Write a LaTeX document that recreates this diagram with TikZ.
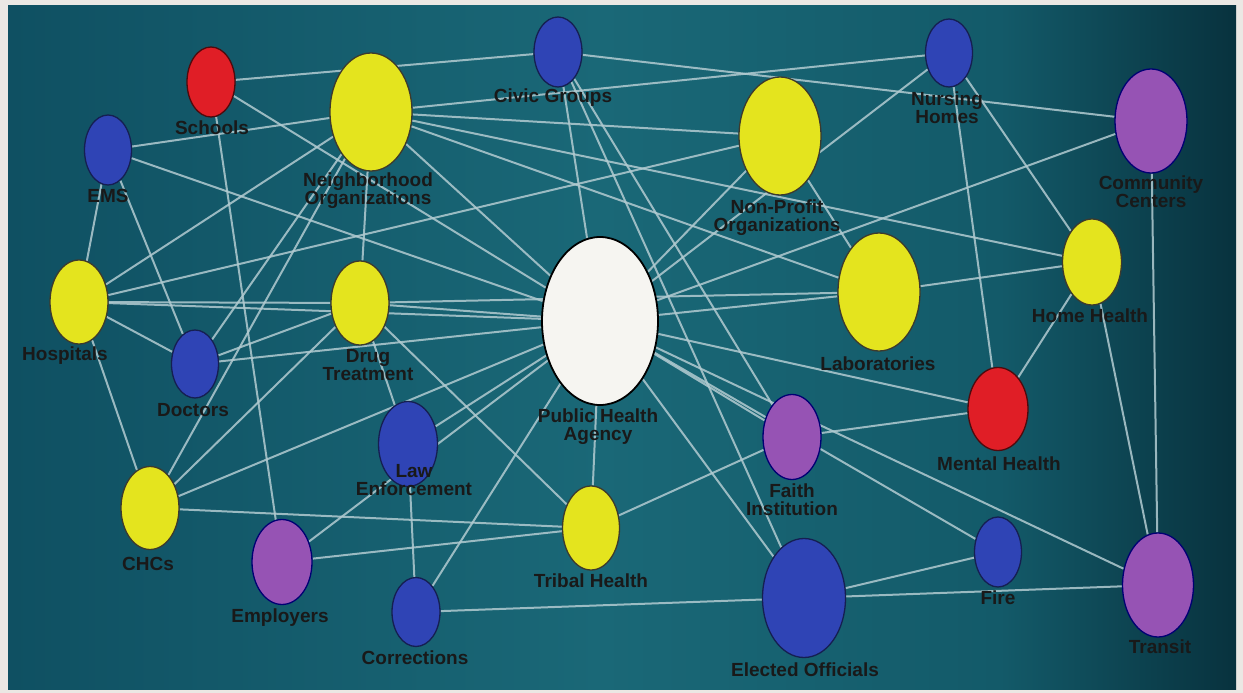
\documentclass[tikz,border=0pt]{standalone}
\usepackage{fontspec}
\setmainfont{Liberation Sans}
\usetikzlibrary{shapes.geometric,backgrounds}

\definecolor{frame}{HTML}{EBE8E4}
\definecolor{tealA}{HTML}{0F5062}
\definecolor{tealB}{HTML}{1A6877}
\definecolor{tealD}{HTML}{135A69}
\definecolor{tealC}{HTML}{08323E}
\definecolor{edge}{HTML}{B2CBD1}
\definecolor{yel}{HTML}{E4E41E}
\definecolor{blu}{HTML}{2F44B5}
\definecolor{rd}{HTML}{E01E26}
\definecolor{pur}{HTML}{9653B4}
\definecolor{wht}{HTML}{F6F5F1}

\begin{document}
\begin{tikzpicture}[x=1pt,y=-1pt,
    org/.style={ellipse,inner sep=0pt,line width=1.3pt},
    dims/.style 2 args={minimum width=#1pt,minimum height=#2pt},
    yellowOrg/.style={org,fill=yel,draw=olive!25!black},
    blueOrg/.style={org,fill=blu,draw=blu!45!black},
    redOrg/.style={org,fill=rd,draw=rd!35!black},
    purpleOrg/.style={org,fill=pur,draw=blue!45!black},
    hub/.style={org,fill=wht,draw=black,line width=1.8pt},
    lbl/.style={font=\bfseries\fontsize{19}{18}\selectfont,align=center,inner sep=0pt,text=black!90},
    link/.style={draw=edge,line width=2pt,opacity=0.85}]
    \useasboundingbox (0,0) rectangle (1243,693);
    \begin{scope}[on background layer]
        \fill[frame] (0,0) rectangle (1243,693);
        \shade[left color=tealA,right color=tealB] (8,6) rectangle (600,689);
        \shade[left color=tealB,right color=tealD] (599.5,6) rectangle (1000,689);
        \shade[left color=tealD,right color=tealC] (999.5,6) rectangle (1236,689);
    \end{scope}
    % organisations
    \node[redOrg,dims={48}{70}] (schools) at (211,82) {};
    \node[blueOrg,dims={48}{70}] (civic) at (558,52) {};
    \node[yellowOrg,dims={82}{118}] (nbhd) at (371,112) {};
    \node[blueOrg,dims={47}{70}] (ems) at (108,150) {};
    \node[blueOrg,dims={47}{68}] (nursing) at (949,53) {};
    \node[yellowOrg,dims={82}{118}] (nonprofit) at (780,136) {};
    \node[purpleOrg,dims={72}{104}] (cc) at (1151,121) {};
    \node[yellowOrg,dims={58}{84}] (hosp) at (79,302) {};
    \node[yellowOrg,dims={58}{84}] (drug) at (360,303) {};
    \node[hub,dims={116}{168}] (pha) at (600,321) {};
    \node[yellowOrg,dims={82}{118}] (labs) at (879,292) {};
    \node[yellowOrg,dims={59}{86}] (homehealth) at (1092,262) {};
    \node[blueOrg,dims={47}{68}] (doctors) at (195,364) {};
    \node[blueOrg,dims={59}{85}] (law) at (408,444) {};
    \node[purpleOrg,dims={58}{85}] (faith) at (792,437) {};
    \node[redOrg,dims={60}{83}] (mental) at (998,409) {};
    \node[yellowOrg,dims={58}{83}] (chcs) at (150,508) {};
    \node[purpleOrg,dims={60}{85}] (employers) at (282,562) {};
    \node[yellowOrg,dims={57}{84}] (tribal) at (591,528) {};
    \node[blueOrg,dims={48}{69}] (corrections) at (416,612) {};
    \node[blueOrg,dims={83}{119}] (elected) at (804,598) {};
    \node[blueOrg,dims={47}{70}] (fire) at (998,552) {};
    \node[purpleOrg,dims={71}{104}] (transit) at (1158,585) {};
    % labels
    \node[lbl] (schools-l) at (212,128) {Schools};
    \node[lbl] (civic-l) at (553,98) {Civic Groups};
    \node[lbl] (nbhd-l) at (368,191) {Neighborhood\\Organizations};
    \node[lbl] (ems-l) at (108,196) {EMS};
    \node[lbl] (nursing-l) at (947,108) {Nursing\\Homes};
    \node[lbl] (nonprofit-l) at (777,218) {Non-Profit\\Organizations};
    \node[lbl] (cc-l) at (1151,192) {Community\\Centers};
    \node[lbl] (hosp-l) at (65,356) {Hospitals};
    \node[lbl] (drug-l) at (368,365) {Drug\\Treatment};
    \node[lbl] (pha-l) at (598,427) {Public Health\\Agency};
    \node[lbl] (labs-l) at (878,364) {Laboratories};
    \node[lbl] (homehealth-l) at (1090,316) {Home Health};
    \node[lbl] (doctors-l) at (193,410) {Doctors};
    \node[lbl] (law-l) at (414,480) {Law\\Enforcement};
    \node[lbl] (faith-l) at (792,500) {Faith\\Institution};
    \node[lbl] (mental-l) at (999,464) {Mental Health};
    \node[lbl] (chcs-l) at (148,564) {CHCs};
    \node[lbl] (employers-l) at (280,618) {Employers};
    \node[lbl] (tribal-l) at (591,581) {Tribal Health};
    \node[lbl] (corrections-l) at (415,658) {Corrections};
    \node[lbl] (elected-l) at (805,670) {Elected Officials};
    \node[lbl] (fire-l) at (998,598) {Fire};
    \node[lbl] (transit-l) at (1160,647) {Transit};
    % links
    \begin{scope}[on background layer]
        \foreach \a/\b in {schools/civic,schools/pha,schools/employers,
            ems/nbhd,ems/pha,ems/hosp,ems/doctors,
            nbhd/nursing,nbhd/nonprofit,nbhd/homehealth,nbhd/labs,nbhd/pha,nbhd/drug,nbhd/hosp,nbhd/doctors,nbhd/chcs,
            civic/cc,civic/pha,civic/faith,civic/elected,
            nursing/pha,nursing/mental,nursing/homehealth,
            cc/pha,cc/transit,
            homehealth/labs,homehealth/mental,homehealth/transit,
            nonprofit/pha,nonprofit/labs,nonprofit/hosp,
            labs/pha,hosp/drug,hosp/pha,hosp/doctors,hosp/chcs,
            doctors/drug,doctors/pha,chcs/drug,chcs/pha,chcs/tribal,
            employers/pha,employers/tribal,drug/law,drug/tribal,drug/pha,drug/labs,
            law/pha,law/corrections,corrections/pha,corrections/elected,
            tribal/pha,tribal/faith,faith/pha,faith/mental,
            pha/elected,pha/fire,pha/transit,pha/mental,elected/fire,elected/transit}
            \draw[link] (\a) -- (\b);
    \end{scope}
\end{tikzpicture}
\end{document}
